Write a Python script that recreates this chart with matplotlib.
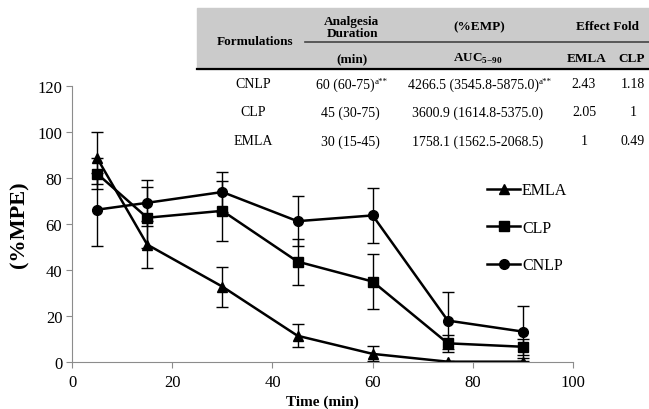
import matplotlib
matplotlib.use("Agg")
import matplotlib.pyplot as plt
from matplotlib.patches import Rectangle
from matplotlib.lines import Line2D

plt.rcParams['font.family'] = ['Liberation Serif', 'DejaVu Serif']
plt.rcParams['mathtext.fontset'] = 'custom'
plt.rcParams['mathtext.rm'] = 'Liberation Serif'
plt.rcParams['mathtext.bf'] = 'Liberation Serif:bold'

# Time points (min)
time = [5, 15, 30, 45, 60, 75, 90]

# %MPE mean and error values
emla = [88.7, 51.0, 32.7, 11.3, 3.4, 0.0, 0.0]
emla_err = [11.3, 10.3, 8.7, 5.0, 3.3, 0.5, 0.5]
clp = [81.9, 62.7, 65.7, 43.6, 34.9, 8.0, 6.5]
clp_err = [6.6, 13.3, 13.0, 10.0, 12.0, 3.7, 3.5]
cnlp = [66.2, 69.2, 73.9, 61.2, 63.7, 17.9, 13.1]
cnlp_err = [16.0, 10.0, 8.5, 11.0, 12.0, 12.4, 11.3]

# inset table contents
row_names = ['CNLP', 'CLP', 'EMLA']
duration = ['60 (60-75)', '45 (30-75)', '30 (15-45)']
auc = ['4266.5 (3545.8-5875.0)', '3600.9 (1614.8-5375.0)', '1758.1 (1562.5-2068.5)']
sig_mark = ['a**', '', '']
fold_emla = ['2.43', '2.05', '1']
fold_clp = ['1.18', '1', '0.49']

fig = plt.figure(figsize=(6.49, 4.10), dpi=100)
ax = fig.add_axes([0.111, 0.1154, 0.772, 0.672])

series = [('EMLA', emla, emla_err, '^'), ('CLP', clp, clp_err, 's'), ('CNLP', cnlp, cnlp_err, 'o')]
handles = []
for name, vals, errs, mk in series:
    ax.errorbar(time, vals, yerr=errs, color='black', lw=1.8, marker=mk, ms=7,
                elinewidth=1, capsize=4, capthick=1)
    handles.append(Line2D([], [], color='black', lw=1.8, marker=mk, ms=7, label=name))

ax.set_xlim(0, 100)
ax.set_ylim(0, 120)
ax.set_xticks(range(0, 101, 20))
ax.set_yticks(range(0, 121, 20))
for s in ['top', 'right']:
    ax.spines[s].set_visible(False)
for s in ['left', 'bottom']:
    ax.spines[s].set_color('#8c8c8c')
ax.tick_params(colors='#8c8c8c', labelcolor='black', labelsize=12, length=4, direction='out', pad=3)
ax.tick_params(axis='x', pad=5)
ax.set_xlabel('Time (min)', fontsize=11, fontweight='bold', labelpad=3)
ax.set_ylabel('(%MPE)', fontsize=16, fontweight='bold', labelpad=6)

ax.legend(handles=handles, loc='center left', bbox_to_anchor=(0.815, 0.486), frameon=False,
          fontsize=11.5, handlelength=2.1, handletextpad=0.1, labelspacing=1.35, borderaxespad=0)

# inset table drawn in pixel space
tab = fig.add_axes([0, 0, 1, 1])
tab.set_xlim(0, 649)
tab.set_ylim(410, 0)
tab.axis('off')
tab.add_patch(Rectangle((197, 9), 452, 61, color='#cbcbcb', zorder=0))
tab.plot([197, 649], [70, 70], color='black', lw=1.6)
tab.plot([305, 649], [43, 43], color='#444444', lw=1.2)

hfs = 9.5
bfs = 10
tab.text(255, 42, 'Formulations', ha='center', va='center', fontsize=hfs, fontweight='bold')
tab.text(352, 28, 'Analgesia\nDuration', ha='center', va='center', fontsize=hfs,
         fontweight='bold', linespacing=0.9)
tab.text(479, 27, '(%EMP)', ha='center', va='center', fontsize=hfs, fontweight='bold')
tab.text(607, 27, 'Effect Fold', ha='center', va='center', fontsize=hfs, fontweight='bold')
tab.text(352, 59, '(min)', ha='center', va='center', fontsize=hfs, fontweight='bold')
tab.text(478, 59, '$\\mathbf{AUC}_{\\mathbf{5\\mathrm{-}90}}$', ha='center', va='center', fontsize=hfs)
tab.text(587, 59, 'EMLA', ha='center', va='center', fontsize=hfs, fontweight='bold')
tab.text(632, 59, 'CLP', ha='center', va='center', fontsize=hfs, fontweight='bold')

row_y = [85, 113, 142]
for i, name in enumerate(row_names):
    y = row_y[i]
    tab.text(253, y, name, ha='center', va='center', fontsize=bfs)
    if sig_mark[i]:
        t1 = tab.text(350 - 5, y, duration[i], ha='center', va='center', fontsize=bfs)
        t2 = tab.text(478 - 5, y, auc[i], ha='center', va='center', fontsize=bfs)
        for t in (t1, t2):
            tab.annotate(sig_mark[i], xy=(1, 0.75), xycoords=t, fontsize=6.5,
                         ha='left', va='center')
    else:
        tab.text(350, y, duration[i], ha='center', va='center', fontsize=bfs)
        tab.text(478, y, auc[i], ha='center', va='center', fontsize=bfs)
    tab.text(584, y, fold_emla[i], ha='center', va='center', fontsize=bfs)
    tab.text(633, y, fold_clp[i], ha='center', va='center', fontsize=bfs)

fig.savefig('out.png', dpi=100)
